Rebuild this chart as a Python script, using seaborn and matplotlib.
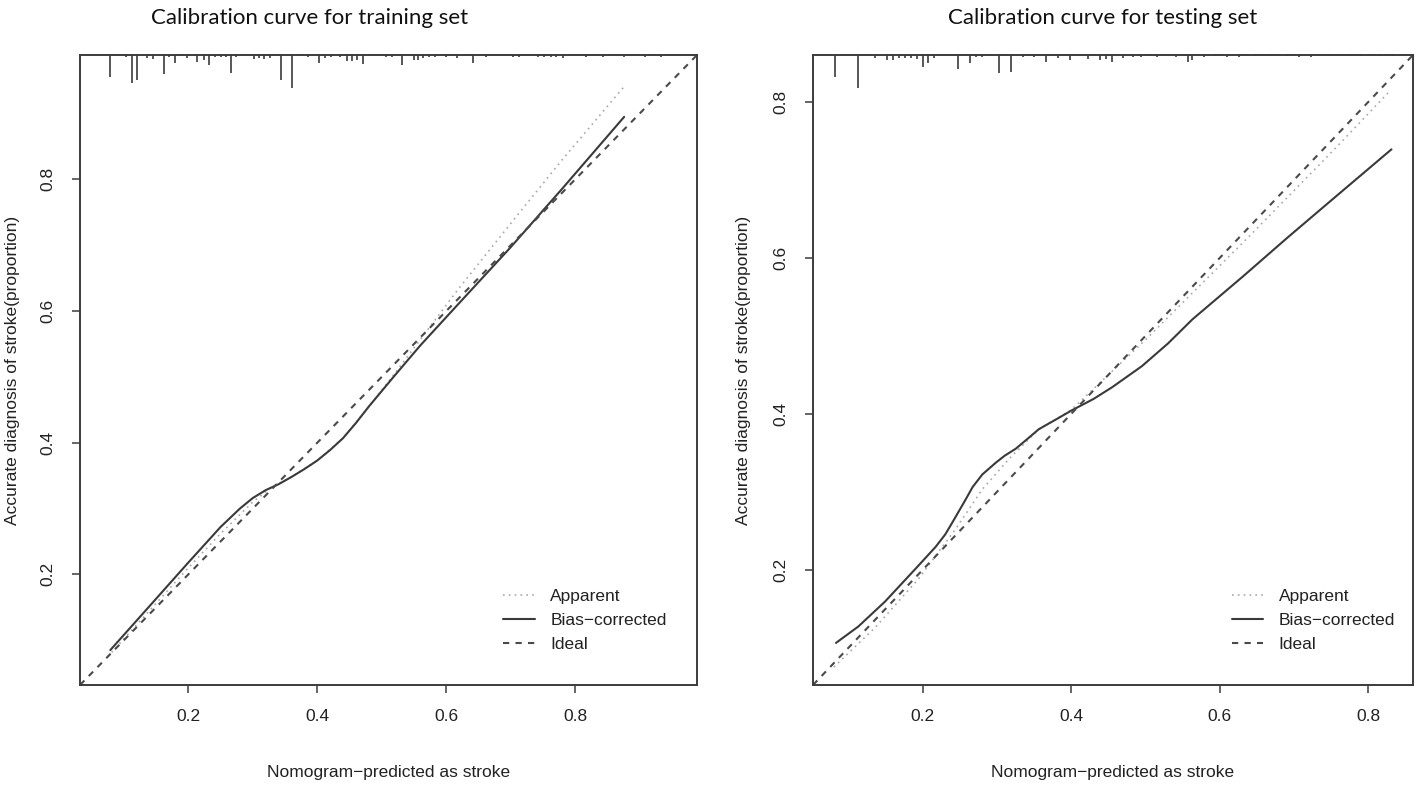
import matplotlib
matplotlib.use("Agg")
import matplotlib.pyplot as plt
import seaborn as sns

# ---- training set ----
train_lims = (0.032, 0.989)
train_app_x = [0.075, 0.15, 0.20, 0.25, 0.30, 0.33, 0.36, 0.40, 0.44, 0.48, 0.52, 0.56, 0.62, 0.70, 0.78, 0.875]
train_app_y = [0.075, 0.156, 0.21, 0.262, 0.31, 0.333, 0.348, 0.373, 0.407, 0.455, 0.505, 0.557, 0.635, 0.733, 0.83, 0.94]
train_bias_x = [0.079, 0.12, 0.15, 0.20, 0.25, 0.28, 0.30, 0.32, 0.34, 0.36, 0.38, 0.40, 0.42, 0.44, 0.46,
                0.48, 0.52, 0.56, 0.62, 0.70, 0.78, 0.876]
train_bias_y = [0.085, 0.13, 0.163, 0.218, 0.272, 0.300, 0.316, 0.328, 0.337, 0.348, 0.36, 0.373, 0.389, 0.407,
                0.43, 0.455, 0.502, 0.548, 0.612, 0.697, 0.786, 0.895]
train_rug_x = [0.078, 0.104, 0.112, 0.121, 0.136, 0.146, 0.162, 0.170, 0.180, 0.198, 0.214, 0.224, 0.232, 0.241,
               0.250, 0.258, 0.266, 0.274, 0.302, 0.310, 0.318, 0.326, 0.344, 0.361, 0.386, 0.403, 0.412, 0.421,
               0.436, 0.446, 0.454, 0.462, 0.471, 0.506, 0.516, 0.532, 0.550, 0.556, 0.564, 0.574, 0.583, 0.600,
               0.617, 0.642, 0.661, 0.703, 0.713, 0.742, 0.752, 0.762, 0.771, 0.781, 0.817, 0.843, 0.875, 0.908, 0.933]
train_rug_n = [22, 2, 28, 25, 3, 4, 19, 2, 8, 3, 7, 5, 10, 2,
               2, 2, 18, 2, 4, 3, 4, 3, 25, 33, 2, 8, 3, 2,
               2, 6, 6, 5, 9, 2, 2, 10, 5, 5, 3, 2, 2, 2,
               3, 8, 2, 2, 2, 2, 2, 2, 2, 3, 2, 2, 2, 2, 2]

# ---- testing set ----
test_lims = (0.052, 0.86)
test_app_x = [0.08, 0.136, 0.194, 0.244, 0.28, 0.316, 0.356, 0.40, 0.50, 0.64, 0.75, 0.83]
test_app_y = [0.075, 0.126, 0.188, 0.252, 0.303, 0.342, 0.38, 0.405, 0.495, 0.628, 0.735, 0.815]
test_bias_x = [0.083, 0.113, 0.149, 0.19, 0.217, 0.23, 0.24, 0.257, 0.267, 0.28, 0.298, 0.31, 0.325, 0.34, 0.356,
               0.38, 0.40, 0.43, 0.455, 0.495, 0.53, 0.563, 0.631, 0.69, 0.748, 0.831]
test_bias_y = [0.106, 0.127, 0.159, 0.201, 0.229, 0.245, 0.261, 0.289, 0.306, 0.322, 0.337, 0.346, 0.355, 0.367,
               0.380, 0.393, 0.404, 0.419, 0.434, 0.461, 0.49, 0.521, 0.576, 0.625, 0.672, 0.739]
test_rug_x = [0.082, 0.113, 0.136, 0.152, 0.160, 0.168, 0.176, 0.184, 0.192, 0.200, 0.207, 0.215, 0.247, 0.263,
              0.272, 0.279, 0.303, 0.319, 0.335, 0.350, 0.366, 0.382, 0.398, 0.422, 0.438, 0.446, 0.454, 0.470,
              0.483, 0.494, 0.515, 0.541, 0.557, 0.562, 0.578, 0.594, 0.610, 0.626, 0.647, 0.668, 0.690, 0.706,
              0.722, 0.748, 0.775, 0.790, 0.814, 0.833]
test_rug_n = [22, 33, 3, 5, 5, 3, 3, 3, 4, 12, 8, 3, 14, 8,
              2, 2, 18, 17, 2, 2, 7, 3, 5, 4, 5, 4, 7, 3,
              2, 2, 2, 2, 7, 5, 2, 1, 2, 2, 1, 1, 1, 2,
              2, 1, 1, 1, 1, 1]

titles = ["Calibration curve for training set", "Calibration curve for testing set"]
xlabel = "Nomogram\u2212predicted as stroke"
ylabel = "Accurate diagnosis of stroke(proportion)"
legend_labels = ["Apparent", "Bias\u2212corrected", "Ideal"]
ticks = [0.2, 0.4, 0.6, 0.8]

sns.set_style("white")
plt.rcParams["font.family"] = ["Liberation Sans", "DejaVu Sans"]
FRAME = "#3c3c3c"


def draw_panel(ax, lims, app_x, app_y, bias_x, bias_y, rug_x, rug_n):
    ax.set_xlim(lims)
    ax.set_ylim(lims)

    sns.lineplot(x=app_x, y=app_y, ax=ax, color="#a8a8a8", linewidth=1.2,
                 linestyle=(0, (1, 2.5)), label=legend_labels[0])
    sns.lineplot(x=bias_x, y=bias_y, ax=ax, color="#3a3a3a", linewidth=1.5,
                 label=legend_labels[1])
    ax.axline((lims[0], lims[0]), slope=1, color="#4a4a4a", linewidth=1.5,
              linestyle=(0, (3, 3)), label=legend_labels[2])

    # rug of predicted probabilities hanging from the top edge
    top = lims[1]
    unit = (lims[1] - lims[0]) / 630
    ax.vlines(rug_x, [top - n * unit for n in rug_n], top, color="#4a4a4a", linewidth=1.3)

    ax.set_xticks(ticks)
    ax.set_yticks(ticks)
    ax.set_xticklabels([f"{t:.1f}" for t in ticks])
    ax.set_yticklabels([f"{t:.1f}" for t in ticks], rotation=90, va="center")
    ax.tick_params(direction="out", length=6, width=1.1, color=FRAME, labelsize=12.5,
                   labelcolor="#222222", bottom=True, left=True)
    ax.tick_params(axis="x", pad=11)
    ax.tick_params(axis="y", pad=12)
    for sp in ax.spines.values():
        sp.set_color(FRAME)
        sp.set_linewidth(1.4)

    ax.set_xlabel(xlabel, fontsize=12.5, color="#222222")
    ax.set_ylabel(ylabel, fontsize=12.5, color="#222222")

    ax.legend(loc="upper left", frameon=False, fontsize=12.5, handlelength=1.8,
              handletextpad=0.9, labelspacing=0.5, borderpad=0, borderaxespad=0,
              labelcolor="#222222")


fig = plt.figure(figsize=(14.18, 7.86), dpi=100)
ax1 = fig.add_axes([80 / 1418, 1 - 685 / 786, 617 / 1418, 630 / 786])
ax2 = fig.add_axes([813 / 1418, 1 - 685 / 786, 600 / 1418, 630 / 786])

draw_panel(ax1, train_lims, train_app_x, train_app_y, train_bias_x, train_bias_y, train_rug_x, train_rug_n)
draw_panel(ax2, test_lims, test_app_x, test_app_y, test_bias_x, test_bias_y, test_rug_x, test_rug_n)

ax1.legend_.set_bbox_to_anchor((0.686, 0.152), transform=ax1.transAxes)
ax2.legend_.set_bbox_to_anchor((0.698, 0.152), transform=ax2.transAxes)

ax1.xaxis.set_label_coords(0.5, -0.127)
ax2.xaxis.set_label_coords(0.5, -0.127)
ax1.yaxis.set_label_coords(-0.097, 0.5)
ax2.yaxis.set_label_coords(-0.103, 0.5)

fig.text(310 / 1418, 0.977, titles[0], ha="center", va="center", fontsize=16,
         family=["Lato", "DejaVu Sans"], color="#111111")
fig.text(1103 / 1418, 0.977, titles[1], ha="center", va="center", fontsize=16,
         family=["Lato", "DejaVu Sans"], color="#111111")

fig.savefig("out.png", dpi=100, facecolor="white")
